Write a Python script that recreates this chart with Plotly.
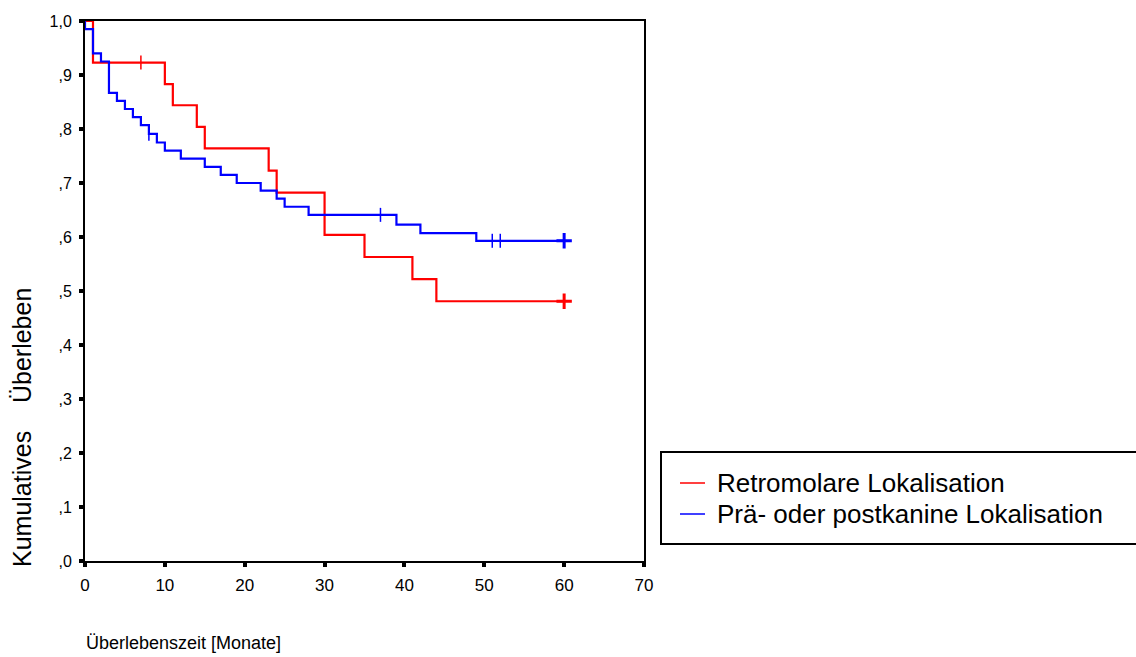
import plotly.graph_objects as go

# Kaplan-Meier step functions (time in months, cumulative survival)
retro_t = [0, 1, 10, 11, 14, 15, 23, 24, 30, 35, 41, 44, 60]
retro_s = [1.0, 0.923, 0.883, 0.844, 0.804, 0.764, 0.723, 0.682, 0.604, 0.563, 0.522, 0.481, 0.481]
retro_cens = [7, 60]

prae_t = [0, 0, 1, 2, 3, 4, 5, 6, 7, 8, 9, 10, 12, 15, 17, 19, 22, 24, 25, 28, 39, 42, 49, 60]
prae_s = [1.0, 0.985, 0.940, 0.925, 0.867, 0.852, 0.837, 0.822, 0.807, 0.791, 0.775, 0.760,
          0.745, 0.730, 0.715, 0.700, 0.686, 0.671, 0.656, 0.641, 0.623, 0.607, 0.593, 0.593]
prae_cens = [8, 37, 51, 52, 60]

x_ticks = [0, 10, 20, 30, 40, 50, 60, 70]
y_ticks = [0.0, 0.1, 0.2, 0.3, 0.4, 0.5, 0.6, 0.7, 0.8, 0.9, 1.0]
y_ticktext = [",0", ",1", ",2", ",3", ",4", ",5", ",6", ",7", ",8", ",9", "1,0"]

series_names = ["Retromolare Lokalisation", "Prä- oder postkanine Lokalisation"]
series_colors = ["#ff0000", "#0000ff"]


def step_value(ts, ss, t):
    """Survival value of a right-continuous step function at time t."""
    val = ss[0]
    for ti, si in zip(ts, ss):
        if ti <= t:
            val = si
    return val


fig = go.Figure()

groups = [(retro_t, retro_s, retro_cens), (prae_t, prae_s, prae_cens)]
for (ts, ss, cens), name, color in zip(groups, series_names, series_colors):
    fig.add_trace(go.Scatter(
        x=ts, y=ss, mode="lines", line=dict(color=color, width=2.2, shape="hv"),
        name=name, showlegend=False, hoverinfo="skip",
    ))
    inner = [c for c in cens if c < max(ts)]
    last = [c for c in cens if c >= max(ts)]
    fig.add_trace(go.Scatter(
        x=inner, y=[step_value(ts, ss, c) for c in inner], mode="markers",
        marker=dict(symbol="line-ns", size=10, line=dict(color=color, width=1.5)),
        showlegend=False, hoverinfo="skip", cliponaxis=False,
    ))
    fig.add_trace(go.Scatter(
        x=last, y=[step_value(ts, ss, c) for c in last], mode="markers",
        marker=dict(symbol="cross-thin", size=11, line=dict(color=color, width=3)),
        showlegend=False, hoverinfo="skip", cliponaxis=False,
    ))

FONT = "Liberation Sans, Arial, sans-serif"

fig.update_xaxes(
    range=[0, 70], tickvals=x_ticks, ticktext=[str(v) for v in x_ticks],
    showline=True, mirror=True, linecolor="black", linewidth=2,
    ticks="outside", ticklen=4, tickwidth=4, tickcolor="black",
    showgrid=False, zeroline=False, layer="below traces",
    tickfont=dict(family=FONT, size=17, color="black"), ticklabelstandoff=4,
)
fig.update_yaxes(
    range=[0, 1], tickvals=y_ticks, ticktext=y_ticktext,
    showline=True, mirror=True, linecolor="black", linewidth=2,
    ticks="outside", ticklen=4, tickwidth=4, tickcolor="black",
    showgrid=False, zeroline=False, layer="below traces",
    tickfont=dict(family=FONT, size=16, color="black"), ticklabelstandoff=4,
)

# plot area in pixels: x 85..644, y 21..561
L, R, T, B = 85, 644, 21, 561
W, H = R - L, B - T


def px(x):
    return (x - L) / W


def py(y):
    return (B - y) / H


annotations = [
    dict(text="Überlebenszeit [Monate]", x=px(84), y=py(643), xref="paper", yref="paper",
         xanchor="left", yanchor="middle", showarrow=False,
         font=dict(family=FONT, size=18, color="black")),
    dict(text="Kumulatives\u00a0\u00a0\u00a0\u00a0Überleben", x=px(22), y=py(428), xref="paper", yref="paper",
         xanchor="center", yanchor="middle", textangle=-90, showarrow=False,
         font=dict(family=FONT, size=25, color="black")),
]

shapes = [
    dict(type="rect", xref="paper", yref="paper", x0=px(661), x1=px(1140), y0=py(452), y1=py(544),
         line=dict(color="black", width=2), fillcolor="white", layer="below"),
]

legend_rows = [483, 514]
for name, color, yrow in zip(series_names, series_colors, legend_rows):
    shapes.append(dict(type="line", xref="paper", yref="paper", x0=px(680), x1=px(705),
                       y0=py(yrow), y1=py(yrow), line=dict(color=color, width=1.5)))
    annotations.append(dict(text=name, x=px(715), y=py(yrow), xref="paper", yref="paper",
                            xanchor="left", yanchor="middle", showarrow=False,
                            font=dict(family=FONT, size=26, color="black")))

fig.update_layout(
    width=1136, height=657,
    margin=dict(l=L, r=1136 - R, t=T, b=657 - B, pad=0),
    paper_bgcolor="white", plot_bgcolor="white",
    showlegend=False,
    annotations=annotations, shapes=shapes,
)

fig.write_html("out.html")
